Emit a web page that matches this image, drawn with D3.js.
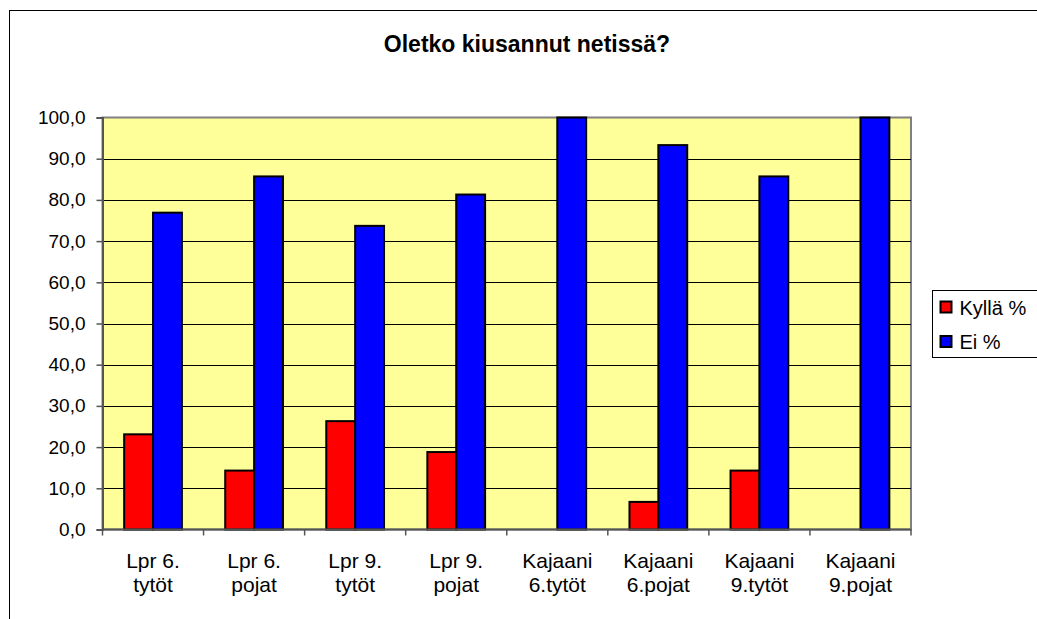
<!DOCTYPE html>
<html>
<head>
<meta charset="utf-8">
<script src="https://cdn.jsdelivr.net/npm/d3@7"></script>
<style>
  body { margin: 0; background: #fff; }
  svg { display: block; font-family: "Liberation Sans", Arial, sans-serif; }
</style>
</head>
<body>
<div id="chart"></div>
<script>
var categories = [
  ["Lpr 6.", "tytöt"], ["Lpr 6.", "pojat"], ["Lpr 9.", "tytöt"], ["Lpr 9.", "pojat"],
  ["Kajaani", "6.tytöt"], ["Kajaani", "6.pojat"], ["Kajaani", "9.tytöt"], ["Kajaani", "9.pojat"]
];
var seriesNames = ["Kyllä %", "Ei %"];
var kyllaValues = [23.1, 14.3, 26.3, 18.8, 0, 6.7, 14.3, 0];
var eiValues = [76.9, 85.7, 73.7, 81.3, 100, 93.3, 85.7, 100];
var yTicks = [0, 10, 20, 30, 40, 50, 60, 70, 80, 90, 100];
var colors = ["#ff0000", "#0000ff"];

var width = 1037, height = 619;
var plot = {left: 102.5, right: 911, top: 117.5, bottom: 529.5};

var svg = d3.select("#chart").append("svg")
  .attr("width", width)
  .attr("height", height);

// outer chart frame (runs off right and bottom edges)
svg.append("rect")
  .attr("x", 9.5).attr("y", 10.5)
  .attr("width", 1100).attr("height", 700)
  .attr("fill", "#fff").attr("stroke", "#000").attr("stroke-width", 1);

svg.append("text")
  .attr("x", 527).attr("y", 52)
  .attr("text-anchor", "middle")
  .attr("font-weight", "bold")
  .attr("font-size", "23px")
  .text("Oletko kiusannut netissä?");

var x = d3.scaleBand()
  .domain(d3.range(categories.length))
  .range([plot.left, plot.right])
  .paddingInner(0).paddingOuter(0);

// gap width 150% -> bars take 2/3.5 of a band
var groupW = x.bandwidth() * 2 / 3.5;
var x1 = d3.scaleBand()
  .domain([0, 1])
  .range([(x.bandwidth() - groupW) / 2, (x.bandwidth() + groupW) / 2]);

var y = d3.scaleLinear().domain([0, 100]).range([plot.bottom, plot.top]);

// plot background
svg.append("rect")
  .attr("x", plot.left).attr("y", plot.top)
  .attr("width", plot.right - plot.left)
  .attr("height", plot.bottom - plot.top)
  .attr("fill", "#ffff99")
  .attr("stroke", "#808080").attr("stroke-width", 2);

// gridlines
svg.append("g")
  .selectAll("line")
  .data(yTicks.filter(function(d){ return d > 0 && d < 100; }))
  .enter().append("line")
  .attr("x1", plot.left).attr("x2", plot.right)
  .attr("y1", function(d){ return Math.round(y(d)) + 0.5; })
  .attr("y2", function(d){ return Math.round(y(d)) + 0.5; })
  .attr("stroke", "#000").attr("stroke-width", 1);

// bars
var data = categories.map(function(c, i){
  return [{s: 0, v: kyllaValues[i]}, {s: 1, v: eiValues[i]}];
});
var groups = svg.append("g").selectAll("g")
  .data(data)
  .enter().append("g")
  .attr("transform", function(d, i){ return "translate(" + x(i) + ",0)"; });

groups.selectAll("rect")
  .data(function(d){ return d.filter(function(b){ return b.v > 0; }); })
  .enter().append("rect")
  .attr("x", function(d){ return x1(d.s); })
  .attr("y", function(d){ return y(d.v); })
  .attr("width", x1.bandwidth())
  .attr("height", function(d){ return y(0) - y(d.v); })
  .attr("fill", function(d){ return colors[d.s]; })
  .attr("stroke", "#000").attr("stroke-width", 2);

// y axis
var yAxis = d3.axisLeft(y)
  .tickValues(yTicks)
  .tickSize(6)
  .tickPadding(11)
  .tickFormat(function(d){ return d3.format(".1f")(d).replace(".", ","); });

svg.append("g")
  .attr("transform", "translate(" + plot.left + ",0)")
  .call(yAxis)
  .call(function(g){
    g.select(".domain").attr("stroke", "#555").attr("stroke-width", 2);
    g.selectAll(".tick line").attr("stroke", "#555").attr("stroke-width", 1.5);
    g.selectAll("text").attr("font-size", "19px").attr("fill", "#000")
      .attr("font-family", "'Liberation Sans', Arial, sans-serif");
  });

// x axis
var xEdges = d3.range(categories.length + 1).map(function(i){
  return plot.left + i * x.bandwidth();
});
svg.append("line")
  .attr("x1", plot.left).attr("x2", plot.right)
  .attr("y1", plot.bottom).attr("y2", plot.bottom)
  .attr("stroke", "#555").attr("stroke-width", 2);
svg.append("g").selectAll("line")
  .data(xEdges)
  .enter().append("line")
  .attr("x1", function(d){ return d; }).attr("x2", function(d){ return d; })
  .attr("y1", plot.bottom).attr("y2", plot.bottom + 6)
  .attr("stroke", "#555").attr("stroke-width", 1.5);

var labels = svg.append("g").selectAll("text")
  .data(categories)
  .enter().append("text")
  .attr("text-anchor", "middle")
  .attr("font-size", "21px")
  .attr("x", function(d, i){ return x(i) + x.bandwidth() / 2; })
  .attr("y", 568);
labels.append("tspan")
  .attr("x", function(d, i){ return x(i) + x.bandwidth() / 2; })
  .text(function(d){ return d[0]; });
labels.append("tspan")
  .attr("x", function(d, i){ return x(i) + x.bandwidth() / 2; })
  .attr("dy", 24)
  .text(function(d){ return d[1]; });

// legend
var legend = svg.append("g").attr("transform", "translate(932.5,290.5)");
legend.append("rect")
  .attr("width", 130).attr("height", 67)
  .attr("fill", "#fff").attr("stroke", "#000").attr("stroke-width", 1);
var items = legend.selectAll("g.item")
  .data(seriesNames)
  .enter().append("g")
  .attr("class", "item")
  .attr("transform", function(d, i){ return "translate(0," + (i * 34.5) + ")"; });
items.append("rect")
  .attr("x", 8).attr("y", 11)
  .attr("width", 11).attr("height", 11)
  .attr("fill", function(d, i){ return colors[i]; })
  .attr("stroke", "#000").attr("stroke-width", 2);
items.append("text")
  .attr("x", 27).attr("y", 24)
  .attr("font-size", "20px")
  .text(function(d){ return d; });
</script>
</body>
</html>
